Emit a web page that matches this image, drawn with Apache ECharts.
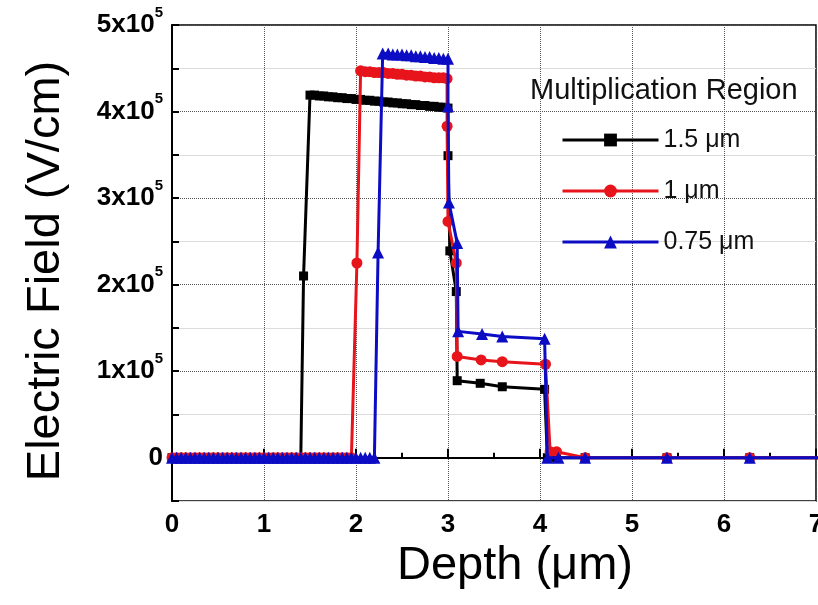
<!DOCTYPE html>
<html>
<head>
<meta charset="utf-8">
<script src="https://cdn.jsdelivr.net/npm/echarts@6/dist/echarts.min.js"></script>
<style>
html,body{margin:0;padding:0;background:#fff;}
#chart{width:818px;height:605px;}
</style>
</head>
<body>
<div id="chart"></div>
<script>
// Depth in µm, electric field in units of 10^5 V/cm
const seriesNames = ['1.5 μm', '1 μm', '0.75 μm'];

const depth15 = [0,0.05,0.1,0.15,0.2,0.25,0.3,0.35,0.4,0.45,0.5,0.55,0.6,0.65,0.7,0.75,0.8,0.85,0.9,0.95,1.0,1.05,1.1,1.15,1.2,1.25,1.3,1.35,1.4,
  1.43,
  1.5,1.55,1.6,1.65,1.7,1.75,1.8,1.85,1.9,1.95,2.0,2.05,2.1,2.15,2.2,2.25,2.3,2.35,2.4,2.45,2.5,2.55,2.6,2.65,2.7,2.75,2.8,2.85,2.9,2.95,3.0,
  3.0,3.02,3.09,3.1,3.35,3.59,4.05,4.08,4.18,4.49,5.38,6.28,7.18];
const field15 = [0,0,0,0,0,0,0,0,0,0,0,0,0,0,0,0,0,0,0,0,0,0,0,0,0,0,0,0,0,
  2.10,
  4.19,4.19,4.18,4.18,4.17,4.17,4.16,4.16,4.15,4.15,4.14,4.14,4.13,4.13,4.12,4.12,4.11,4.11,4.10,4.10,4.09,4.09,4.08,4.08,4.07,4.07,4.06,4.06,4.05,4.05,4.04,
  3.49,2.39,1.92,0.89,0.86,0.82,0.79,0,0,0,0,0,0];

const depth10 = [0,0.05,0.1,0.15,0.2,0.25,0.3,0.35,0.4,0.45,0.5,0.55,0.6,0.65,0.7,0.75,0.8,0.85,0.9,0.95,1.0,1.05,1.1,1.15,1.2,1.25,1.3,1.35,1.4,1.45,1.5,1.55,1.6,1.65,1.7,1.75,1.8,1.85,1.9,1.95,
  2.01,
  2.05,2.1,2.15,2.2,2.25,2.3,2.35,2.4,2.45,2.5,2.55,2.6,2.65,2.7,2.75,2.8,2.85,2.9,2.95,2.99,
  2.99,3.0,3.09,3.1,3.36,3.59,4.06,4.11,4.18,4.49,5.38,6.28,7.18];
const field10 = [0,0,0,0,0,0,0,0,0,0,0,0,0,0,0,0,0,0,0,0,0,0,0,0,0,0,0,0,0,0,0,0,0,0,0,0,0,0,0,0,
  2.25,
  4.47,4.46,4.46,4.45,4.45,4.45,4.44,4.44,4.43,4.43,4.42,4.42,4.41,4.41,4.40,4.40,4.39,4.39,4.39,4.38,
  3.83,2.73,2.25,1.17,1.13,1.11,1.08,0.07,0.07,0,0,0,0];

const depth075 = [0,0.05,0.1,0.15,0.2,0.25,0.3,0.35,0.4,0.45,0.5,0.55,0.6,0.65,0.7,0.75,0.8,0.85,0.9,0.95,1.0,1.05,1.1,1.15,1.2,1.25,1.3,1.35,1.4,1.45,1.5,1.55,1.6,1.65,1.7,1.75,1.8,1.85,1.9,1.95,2.0,2.05,2.1,2.15,2.2,
  2.24,
  2.29,2.35,2.4,2.45,2.5,2.55,2.6,2.65,2.7,2.75,2.8,2.85,2.9,2.95,3.0,
  3.0,3.01,3.1,3.11,3.37,3.59,4.05,4.08,4.2,4.49,5.38,6.28,7.18];
const field075 = [0,0,0,0,0,0,0,0,0,0,0,0,0,0,0,0,0,0,0,0,0,0,0,0,0,0,0,0,0,0,0,0,0,0,0,0,0,0,0,0,0,0,0,0,0,
  2.37,
  4.67,4.67,4.66,4.66,4.66,4.65,4.65,4.64,4.64,4.63,4.63,4.62,4.62,4.61,4.61,
  4.06,2.95,2.48,1.46,1.43,1.40,1.375,0,0,0,0,0,0];

const xTicks = [0,1,2,3,4,5,6,7];
const yMajor = [0,1,2,3,4,5];

function zip(xs, ys){ return xs.map((x,i)=>[x, ys[i]]); }
const FONT = '"Liberation Sans", Arial, sans-serif';

const chart = echarts.init(document.getElementById('chart'), null, {renderer:'canvas'});

function isInt(v){ return Math.abs(v - Math.round(v)) < 1e-6; }

const option = {
  animation: false,
  backgroundColor: '#fff',
  title: {
    text: 'Multiplication Region',
    left: 525, top: 71,
    textStyle: {fontFamily: FONT, fontSize: 29, fontWeight: 'normal', color: '#111'}
  },
  legend: {
    orient: 'vertical',
    left: 556, top: 120,
    itemWidth: 96, itemHeight: 16, itemGap: 21,
    data: seriesNames,
    lineStyle: {width: 3},
    textStyle: {fontFamily: FONT, fontSize: 25, color: '#111', lineHeight: 30}
  },
  grid: {
    left: 172, right: 2, top: 25, bottom: 104,
    outerBoundsMode: 'none',
    show: true, borderColor: '#000', borderWidth: 1.5, backgroundColor: 'transparent'
  },
  xAxis: {
    type: 'value', min: 0, max: 7, interval: 1,
    name: 'Depth (μm)', nameLocation: 'middle', nameGap: 42,
    nameTextStyle: {fontFamily: FONT, fontSize: 47, color: '#000', padding: [0,0,0,42]},
    axisLine: {lineStyle: {color: '#000', width: 2}},
    axisTick: {inside: true, length: 9, lineStyle: {color: '#000', width: 2}},
    minorTick: {show: true, splitNumber: 2, length: 5, lineStyle: {color: '#000', width: 2}},
    axisLabel: {fontFamily: FONT, fontSize: 26, fontWeight: 'bold', color: '#000', margin: 11,
      formatter: v => xTicks.indexOf(Math.round(v)) >= 0 ? String(Math.round(v)) : ''},
    splitLine: {show: true, lineStyle: {color: '#555', type: 'dotted', width: 1}}
  },
  yAxis: [{
    type: 'value', min: -0.5, max: 5, interval: 0.5,
    name: 'Electric Field (V/cm)', nameLocation: 'middle', nameGap: 102,
    nameTextStyle: {fontFamily: FONT, fontSize: 47, color: '#000', padding: [0,16,0,0]},
    axisLine: {show: true, lineStyle: {color: '#000', width: 2}},
    axisTick: {inside: true, length: 7, lineStyle: {color: '#000', width: 2}},
    axisLabel: {
      margin: 9, color: '#000',
      formatter: v => {
        if (!isInt(v)) return '';
        const n = Math.round(v);
        if (yMajor.indexOf(n) < 0) return '';
        return n === 0 ? '{b|0}' : '{b|' + n + 'x10}{s|5}';
      },
      rich: {
        b: {fontFamily: FONT, fontSize: 26, fontWeight: 'bold', color: '#000', lineHeight: 40, verticalAlign: 'middle'},
        s: {fontFamily: FONT, fontSize: 15, fontWeight: 'bold', color: '#000', verticalAlign: 'top'}
      }
    },
    splitLine: {show: true, lineStyle: {color: ['rgba(0,0,0,0)', '#555'], type: 'dotted', width: 1}}
  }, {
    type: 'value', min: -0.5, max: 5, interval: 0.5, position: 'left',
    axisLine: {show: false}, axisTick: {show: false}, axisLabel: {show: false},
    splitLine: {show: true, lineStyle: {color: ['#dcdcdc', 'rgba(0,0,0,0)'], type: 'solid', width: 1}}
  }],
  series: [
    {
      name: seriesNames[0], type: 'line', data: zip(depth15, field15), showAllSymbol: true,
      symbol: 'rect', symbolSize: 9, color: '#000',
      lineStyle: {width: 3, color: '#000'}, itemStyle: {color: '#000'}, z: 3
    },
    {
      name: seriesNames[1], type: 'line', data: zip(depth10, field10), showAllSymbol: true,
      symbol: 'circle', symbolSize: 11, color: '#e8141b',
      lineStyle: {width: 3, color: '#e8141b'}, itemStyle: {color: '#e8141b'}, z: 4
    },
    {
      name: seriesNames[2], type: 'line', data: zip(depth075, field075), showAllSymbol: true,
      symbol: 'triangle', symbolSize: 12, color: '#0c0cc4',
      lineStyle: {width: 3, color: '#0c0cc4'}, itemStyle: {color: '#0c0cc4'}, z: 5
    }
  ]
};
chart.setOption(option);
</script>
</body>
</html>
